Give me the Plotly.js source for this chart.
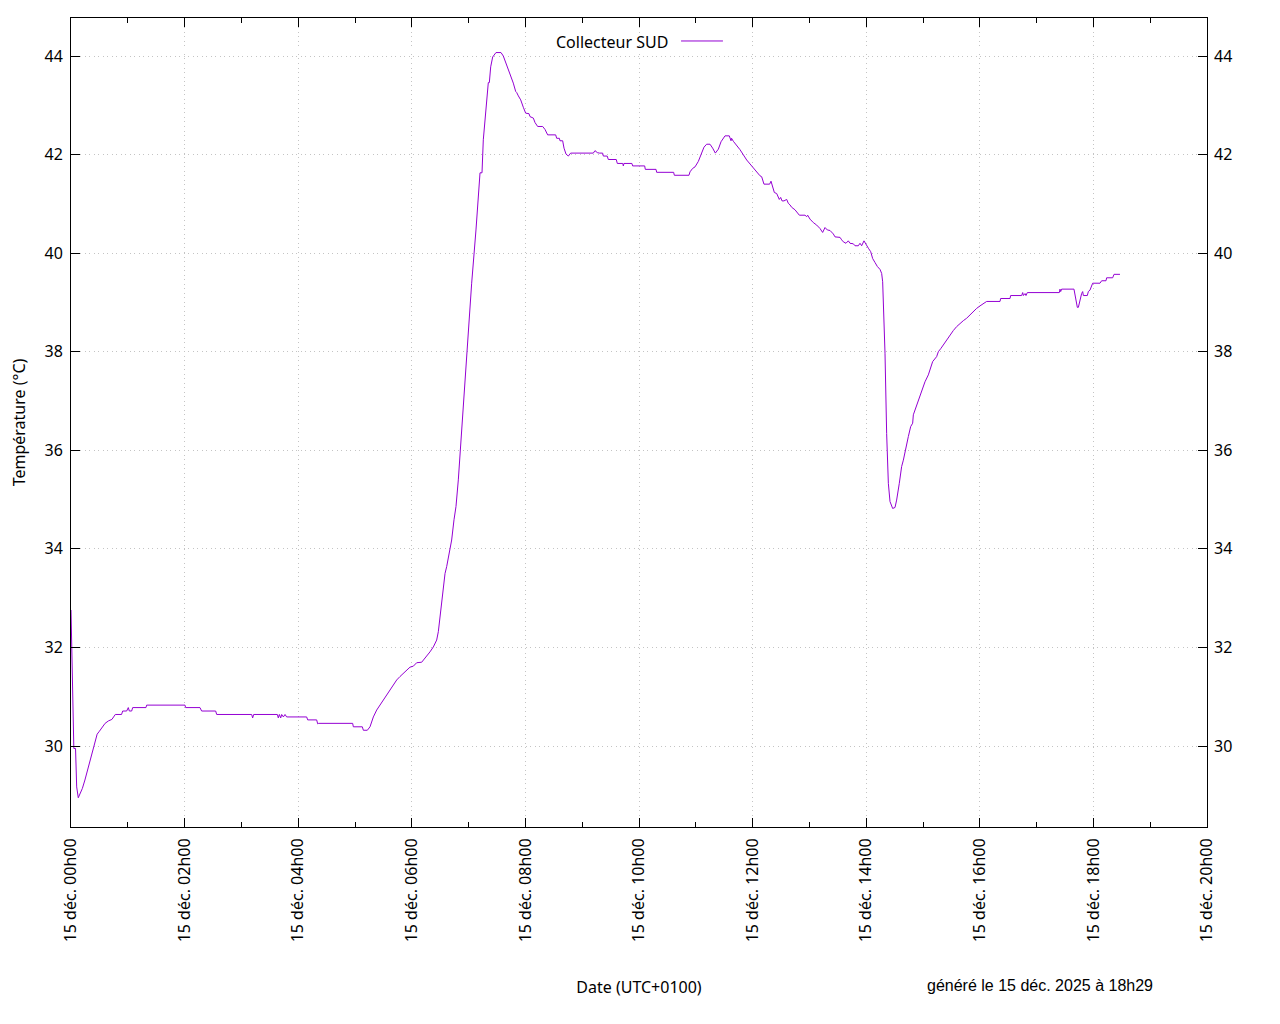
<!DOCTYPE html>
<html>
<head>
<meta charset="utf-8">
<script src="https://cdn.plot.ly/plotly-3.0.1.min.js"></script>
<style>
html,body{margin:0;padding:0;background:#fff;}
#chart{width:1280px;height:1024px;}
</style>
</head>
<body>
<div id="chart"></div>
<script>
// Time of day in decimal hours (15 déc. 2025, UTC+0100)
const hours = [
0.000,0.035,0.050,0.080,0.100,0.128,0.165,0.200,0.245,0.305,0.360,0.420,0.460,0.500,0.550,0.600,0.660,0.720,0.750,0.780,
0.890,0.910,0.980,1.009,1.027,1.068,1.086,1.320,1.332,2.007,2.018,2.271,2.300,2.547,2.565,3.181,3.198,3.216,3.633,3.650,
3.668,3.692,3.709,3.739,3.768,3.797,4.149,4.167,4.325,4.343,4.361,4.959,4.971,5.129,5.147,5.217,5.264,5.323,5.382,5.440,
5.499,5.558,5.616,5.675,5.734,5.792,5.851,5.910,5.968,6.027,6.056,6.086,6.174,6.203,6.262,6.320,6.379,6.438,6.467,6.508,
6.543,6.585,6.614,6.661,6.702,6.743,6.778,6.819,6.860,6.895,6.937,6.977,7.013,7.054,7.130,7.201,7.236,7.259,7.347,7.365,
7.389,7.424,7.482,7.570,7.611,7.670,7.729,7.787,7.829,7.846,7.876,7.917,7.963,8.005,8.063,8.081,8.140,8.169,8.216,8.304,
8.345,8.392,8.533,8.551,8.598,8.609,8.656,8.680,8.715,8.756,8.797,9.196,9.225,9.266,9.301,9.360,9.372,9.440,9.460,9.600,
9.618,9.715,9.724,9.735,9.875,9.888,10.100,10.111,10.300,10.311,10.610,10.622,10.880,10.898,10.945,10.986,11.044,11.103,11.144,11.191,
11.250,11.297,11.344,11.397,11.444,11.514,11.590,11.620,11.630,11.661,11.720,11.778,11.896,12.013,12.101,12.130,12.160,12.200,12.300,12.324,
12.383,12.424,12.470,12.494,12.518,12.553,12.600,12.629,12.658,12.688,12.746,12.788,12.823,12.923,12.952,12.969,13.011,13.069,13.128,13.187,
13.233,13.275,13.316,13.363,13.421,13.451,13.539,13.568,13.597,13.644,13.685,13.715,13.773,13.803,13.861,13.891,13.920,13.961,13.996,14.038,
14.079,14.114,14.155,14.196,14.243,14.272,14.290,14.313,14.331,14.360,14.390,14.419,14.466,14.507,14.536,14.583,14.624,14.654,14.712,14.742,
14.783,14.818,14.830,14.889,14.947,14.976,15.035,15.094,15.123,15.170,15.240,15.270,15.317,15.358,15.417,15.475,15.534,15.593,15.651,15.710,
15.769,15.827,15.886,15.945,16.004,16.062,16.121,16.356,16.367,16.532,16.543,16.737,16.755,16.767,16.796,16.813,16.837,17.400,17.412,17.424,
17.441,17.658,17.694,17.717,17.735,17.764,17.793,17.811,17.823,17.893,17.911,17.940,17.970,17.987,18.116,18.145,18.222,18.233,18.339,18.363,
18.468
];

// Collecteur SUD temperature (°C)
const tempSud = [
32.76,30.90,29.95,29.95,29.17,28.95,29.04,29.14,29.31,29.58,29.85,30.09,30.24,30.30,30.38,30.46,30.51,30.54,30.59,30.64,
30.64,30.71,30.71,30.78,30.71,30.71,30.78,30.78,30.83,30.83,30.78,30.78,30.71,30.71,30.64,30.64,30.57,30.64,30.64,30.57,
30.64,30.57,30.64,30.59,30.64,30.59,30.59,30.53,30.53,30.45,30.46,30.46,30.39,30.39,30.32,30.32,30.39,30.59,30.73,30.83,
30.93,31.03,31.14,31.24,31.34,31.41,31.47,31.54,31.60,31.62,31.66,31.69,31.70,31.74,31.81,31.91,32.01,32.15,32.32,32.69,
33.10,33.50,33.64,33.91,34.18,34.59,34.86,35.40,36.07,36.68,37.43,38.10,38.78,39.39,40.47,41.63,41.63,42.30,43.46,43.46,
43.78,43.98,44.07,44.07,44.00,43.82,43.61,43.45,43.28,43.26,43.19,43.11,42.96,42.84,42.83,42.77,42.74,42.65,42.57,42.57,
42.51,42.40,42.40,42.33,42.33,42.28,42.28,42.13,42.01,41.97,42.03,42.03,42.08,42.04,42.03,42.03,41.97,41.97,41.90,41.90,
41.82,41.82,41.77,41.82,41.82,41.77,41.77,41.70,41.70,41.64,41.64,41.58,41.58,41.65,41.72,41.75,41.86,42.03,42.15,42.21,
42.21,42.13,42.03,42.11,42.26,42.38,42.38,42.28,42.33,42.27,42.18,42.10,41.89,41.72,41.59,41.57,41.55,41.40,41.40,41.46,
41.23,41.21,41.09,41.13,41.06,41.06,41.09,41.01,40.98,40.93,40.88,40.83,40.77,40.77,40.74,40.77,40.69,40.62,40.57,40.50,
40.42,40.52,40.47,40.46,40.39,40.33,40.32,40.27,40.23,40.20,40.25,40.20,40.19,40.15,40.15,40.20,40.15,40.25,40.17,40.10,
40.03,39.89,39.81,39.73,39.67,39.59,39.42,38.71,37.97,36.34,35.33,34.96,34.82,34.84,34.99,35.33,35.67,35.80,36.17,36.28,
36.48,36.55,36.72,36.92,37.09,37.22,37.39,37.53,37.63,37.80,37.90,38.00,38.07,38.14,38.24,38.34,38.43,38.51,38.58,38.63,
38.68,38.75,38.81,38.88,38.93,38.97,39.02,39.02,39.08,39.08,39.14,39.14,39.20,39.14,39.18,39.14,39.20,39.20,39.27,39.22,
39.27,39.27,39.05,38.90,38.90,39.05,39.18,39.22,39.14,39.14,39.22,39.25,39.32,39.39,39.39,39.44,39.44,39.50,39.50,39.57,
39.57
];

const seriesName = "Collecteur SUD";
const tickHours = [0,2,4,6,8,10,12,14,16,18,20];
const tickLabels = ["15 déc. 00h00","15 déc. 02h00","15 déc. 04h00","15 déc. 06h00","15 déc. 08h00",
  "15 déc. 10h00","15 déc. 12h00","15 déc. 14h00","15 déc. 16h00","15 déc. 18h00","15 déc. 20h00"];
const yTicks = [30,32,34,36,38,40,42,44];
const xTitle = "Date (UTC+0100)";
const yTitle = "Température (°C)";
const footNote = "généré le 15 déc. 2025 à 18h29";

function toDate(h){
  const ms = Date.UTC(2025,11,15) + Math.round(h*3600000);
  return new Date(ms).toISOString().replace('T',' ').replace('Z','');
}
const xDates = hours.map(toDate);
const tickVals = tickHours.map(toDate);

const FONT = "Noto Sans, DejaVu Sans, sans-serif";
const FS = 16;
const yRange = [28.357, 44.771];
const purple = "#9400d3";
const GRID = '#c4c4c4';
const GDASH = '1px,3.5px';

const traces = [
  {x: xDates, y: tempSud, type: 'scatter', mode: 'lines', name: seriesName,
   line: {color: purple, width: 1}, showlegend: false, hoverinfo: 'skip'},
  {x: xDates, y: tempSud, type: 'scatter', mode: 'lines', yaxis: 'y2',
   line: {color: 'rgba(0,0,0,0)', width: 0}, showlegend: false, hoverinfo: 'skip'}
];

const layout = {
  width: 1280, height: 1024,
  margin: {l: 71, r: 73, t: 18, b: 197, pad: 0},
  paper_bgcolor: '#fff', plot_bgcolor: '#fff',
  font: {family: FONT, size: FS, color: '#000'},
  showlegend: false,
  xaxis: {
    type: 'date',
    range: [toDate(0), toDate(20)],
    tickvals: tickVals, ticktext: tickLabels,
    tickangle: -90,
    ticks: 'inside', ticklen: 9, tickwidth: 1, tickcolor: '#000',
    showline: true, linecolor: '#000', linewidth: 1, mirror: 'ticks',
    showgrid: true, gridcolor: GRID, griddash: GDASH, gridwidth: 1,
    zeroline: false,
    minor: {dtick: 3600000, ticks: 'inside', ticklen: 5, tickcolor: '#000', showgrid: false},
    tickfont: {family: FONT, size: FS, color: '#000'},
    ticklabelstandoff: 4,
    title: {text: xTitle, font: {family: FONT, size: FS, color: '#000'}, standoff: 40},
    automargin: false
  },
  yaxis: {
    range: yRange, tickvals: yTicks,
    ticks: 'inside', ticklen: 9, tickwidth: 1, tickcolor: '#000',
    showline: true, linecolor: '#000', linewidth: 1, mirror: 'ticks',
    showgrid: true, gridcolor: GRID, griddash: GDASH, gridwidth: 1,
    zeroline: false,
    tickfont: {family: FONT, size: FS, color: '#000'},
    ticklabelstandoff: 4,
    title: {text: yTitle, font: {family: FONT, size: FS, color: '#000'}, standoff: 14},
    automargin: false
  },
  yaxis2: {
    overlaying: 'y', side: 'right', range: yRange, tickvals: yTicks,
    ticks: 'inside', ticklen: 9, tickwidth: 1, tickcolor: '#000',
    showline: false, showgrid: false, zeroline: false,
    tickfont: {family: FONT, size: FS, color: '#000'},
    ticklabelstandoff: 6,
    automargin: false
  },
  annotations: [
    {text: seriesName, xref: 'paper', yref: 'paper', x: 0.5273, y: 0.9703,
     xanchor: 'right', yanchor: 'middle', showarrow: false,
     font: {family: FONT, size: FS, color: '#000'}},
    {text: footNote, xref: 'paper', yref: 'paper', x: 0.8534, y: -0.1965,
     xanchor: 'center', yanchor: 'middle', showarrow: false,
     font: {family: "Liberation Sans Narrow, Liberation Sans, sans-serif", size: 16, color: '#000'}}
  ],
  shapes: [
    {type: 'line', xref: 'paper', yref: 'paper', x0: 0.5370, x1: 0.5739, y0: 0.9716, y1: 0.9716,
     line: {color: purple, width: 1}}
  ]
};

Plotly.newPlot('chart', traces, layout, {staticPlot: true, displayModeBar: false});
</script>
</body>
</html>
